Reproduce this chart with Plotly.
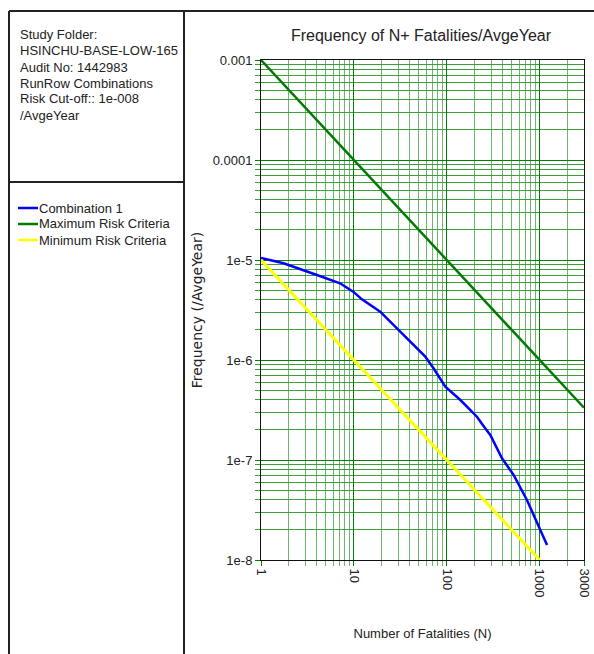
import plotly.graph_objects as go

# ---------------- data ----------------
combo_n = [1, 1.75, 4, 7.1, 9.9, 12.2, 19.2, 30.3, 44, 58.7, 72, 96.4, 140, 211, 260, 294, 393, 524, 729, 935, 1200]
combo_f = [1.05e-5, 9.27e-6, 7.08e-6, 5.85e-6, 4.8e-6, 4.04e-6, 3.04e-6, 2.0e-6, 1.41e-6, 1.08e-6,
           8.26e-7, 5.41e-7, 3.98e-7, 2.71e-7, 2.07e-7, 1.78e-7, 1.04e-7, 7.08e-8, 3.98e-8, 2.33e-8, 1.41e-8]
max_n = [1, 3000]
max_f = [1e-3, 3.333e-7]
min_n = [1, 1000]
min_f = [1e-5, 1e-8]

series_names = ["Combination 1", "Maximum Risk Criteria", "Minimum Risk Criteria"]
series_colors = ["#0000FF", "#007A00", "#FFFF00"]

x_tickvals = [1, 10, 100, 1000, 3000]
x_ticktext = ["1", "10", "100", "1000", "3000"]
y_tickvals = [1e-3, 1e-4, 1e-5, 1e-6, 1e-7, 1e-8]
y_ticktext = ["0.001", "0.0001", "1e-5", "1e-6", "1e-7", "1e-8"]
x_minor = [d * m for d in (1, 10, 100) for m in range(2, 10)] + [2000]
y_minor = [d * m for d in (1e-8, 1e-7, 1e-6, 1e-5, 1e-4) for m in range(2, 10)]

info_lines = ["Study Folder:", "HSINCHU-BASE-LOW-165", "Audit No: 1442983",
              "RunRow Combinations", "Risk Cut-off:: 1e-008", "/AvgeYear"]

# ---------------- layout helpers (targets given in page pixels) ----------------
OFF = 0                      # body margin removed by post_script
W, H = 594 - OFF, 654 - OFF
L, R, T, B = 261 - OFF, 10, 60 - OFF, 94
PW, PH = W - L - R, H - T - B
def px_x(px):
    return (px - OFF - L) / PW
def px_y(py):
    return (H - B - (py - OFF)) / PH

FONT = "Liberation Sans, Arial, sans-serif"
TXT = "#222222"

fig = go.Figure()
for xs, ys, nm, col, w in [(combo_n, combo_f, series_names[0], series_colors[0], 2.5),
                           (max_n, max_f, series_names[1], series_colors[1], 2.5),
                           (min_n, min_f, series_names[2], series_colors[2], 3)]:
    fig.add_trace(go.Scatter(x=xs, y=ys, mode="lines", name=nm, showlegend=False,
                             line=dict(color=col, width=w)))

shapes = []
lc = dict(color="#222222", width=2)
shapes.append(dict(type="line", xref="paper", yref="paper", x0=px_x(9), x1=px_x(600), y0=px_y(11), y1=px_y(11), line=lc))
shapes.append(dict(type="line", xref="paper", yref="paper", x0=px_x(9), x1=px_x(9), y0=px_y(11), y1=px_y(670), line=lc))
shapes.append(dict(type="line", xref="paper", yref="paper", x0=px_x(184), x1=px_x(184), y0=px_y(11), y1=px_y(670), line=lc))
shapes.append(dict(type="line", xref="paper", yref="paper", x0=px_x(9), x1=px_x(184), y0=px_y(182), y1=px_y(182), line=lc))

annotations = []
for i, t in enumerate(info_lines):
    annotations.append(dict(text=t, xref="paper", yref="paper", x=px_x(18), y=px_y(35 + 16 * i),
                            xanchor="left", yanchor="middle", showarrow=False,
                            font=dict(family=FONT, size=13, color=TXT)))
# legend (drawn in the left panel, like the original)
for i, (nm, col) in enumerate(zip(series_names, series_colors)):
    yy = px_y(208 + 16 * i)
    shapes.append(dict(type="line", xref="paper", yref="paper", x0=px_x(18), x1=px_x(38),
                       y0=yy, y1=yy, line=dict(color=col, width=2.5)))
    annotations.append(dict(text=nm, xref="paper", yref="paper", x=px_x(37), y=yy,
                            xanchor="left", yanchor="middle", showarrow=False,
                            font=dict(family=FONT, size=13, color=TXT)))

fig.update_layout(
    width=W, height=H,
    margin=dict(l=L, r=R, t=T, b=B, autoexpand=False),
    paper_bgcolor="white", plot_bgcolor="white",
    title=dict(text="Frequency of N+ Fatalities/AvgeYear", x=px_x(421), xref="paper", xanchor="center",
               y=1 - (35 - OFF) / H, yanchor="middle", font=dict(family=FONT, size=16, color=TXT)),
    shapes=shapes, annotations=annotations,
    showlegend=False,
)

fig.update_xaxes(type="log", range=[0, 3.4771], tickmode="array", tickvals=x_tickvals, ticktext=x_ticktext,
                 tickangle=90, tickfont=dict(family=FONT, size=13, color=TXT),
                 ticks="outside", ticklen=5, tickcolor="#008000",
                 showgrid=True, gridcolor="#008000", gridwidth=1,
                 minor=dict(tickmode="array", tickvals=x_minor, showgrid=True, gridcolor="#6DB86D",
                            gridwidth=1, ticks="outside", ticklen=5, tickcolor="#6DB86D"),
                 showline=True, linecolor="#111111", linewidth=1, mirror=True,
                 title=dict(text="Number of Fatalities (N)", font=dict(family=FONT, size=13, color=TXT),
                            standoff=32),
                 automargin=False, zeroline=False)
fig.update_yaxes(type="log", range=[-8, -3], tickmode="array", tickvals=y_tickvals, ticktext=y_ticktext,
                 tickfont=dict(family=FONT, size=13, color=TXT),
                 ticks="outside", ticklen=5, tickcolor="#008000",
                 showgrid=True, gridcolor="#008000", gridwidth=1,
                 minor=dict(tickmode="array", tickvals=y_minor, showgrid=True, gridcolor="#3E9E3E",
                            gridwidth=1, ticks="outside", ticklen=5, tickcolor="#3E9E3E"),
                 showline=True, linecolor="#111111", linewidth=1, mirror=True,
                 title=dict(text="Frequency (/AvgeYear)", font=dict(family="DejaVu Sans, sans-serif", size=14, color=TXT),
                            standoff=6),
                 automargin=False, zeroline=False)

fig.write_html("out.html", config={"displayModeBar": False},
               post_script="document.body.style.margin='0';document.body.style.overflow='hidden';")
